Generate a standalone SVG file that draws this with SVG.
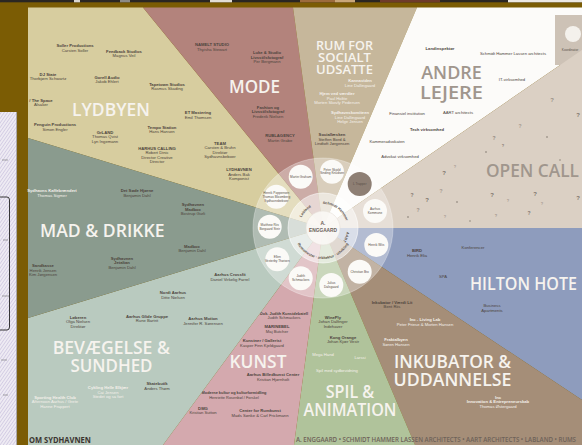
<svg xmlns="http://www.w3.org/2000/svg" width="582" height="445" viewBox="0 0 582 445">
<defs>
<style>
.big{font-family:"Open Sans","Noto Sans","DejaVu Sans",sans-serif;font-weight:600;font-size:17.5px;fill:#f6f3ee}
.f14{font-size:13px}
.f18{font-size:18.5px}
.mid{text-anchor:middle}
.grey{fill:#a0968d}
.sm{font-family:"Liberation Sans","Noto Sans",sans-serif;font-size:4.2px;fill:#4d443c;text-anchor:middle}
.s39{font-size:3.9px}
.lt{fill:#f4f0ea}
.b{font-weight:bold}
.q{font-family:"Liberation Sans",sans-serif;font-weight:bold;fill:#7e746b;text-anchor:middle}
.ring{font-family:"Liberation Sans",sans-serif;font-size:3.7px;fill:#5e544b;font-weight:bold}
.cir{fill:#fbfaf7}
.ct{font-family:"Liberation Sans",sans-serif;font-size:3.2px;fill:#5a5048;text-anchor:middle}
.sec{stroke:none}
</style>
<pattern id="hatch" width="2.6" height="2.6" patternUnits="userSpaceOnUse" patternTransform="rotate(35)">
<line x1="0" y1="0" x2="0" y2="2.6" stroke="#b2a6d0" stroke-width="1"/>
</pattern>
<path id="ringCW" d="M 299,228 A 24,24 0 1 1 347,228 A 24,24 0 1 1 299,228"/>
<path id="ringBot" d="M 294,230 A 29,29 0 0 0 352,230"/>
</defs>

<!-- frame -->
<rect x="0" y="0" width="582" height="445" fill="#7b5c04"/>
<g id="top-strip">
<rect x="0" y="0" width="582" height="2.3" fill="#2a2622"/>
<rect x="74" y="0" width="6" height="2.3" fill="#d9d6d0"/>
<rect x="120" y="0" width="10" height="2.3" fill="#8c8a86"/>
<rect x="210" y="0" width="22" height="2.3" fill="#e2ded6"/>
<rect x="300" y="0" width="35" height="2.3" fill="#9c6b3c"/>
<rect x="335" y="0" width="20" height="2.3" fill="#c9a77a"/>
<rect x="380" y="0" width="60" height="2.3" fill="#6e3b2a"/>
<rect x="508" y="0" width="74" height="2.3" fill="#ece8e2"/>
</g>
<g id="sketch-paper">
<rect x="0" y="112" width="17" height="333" fill="#eeebf3"/>
<rect x="0" y="112" width="17" height="333" fill="url(#hatch)" opacity="0.8"/>
<line x1="16.6" y1="112" x2="16.6" y2="445" stroke="#8a8580" stroke-width="0.7"/>
<path d="M0,197 H7 Q9.5,197 9.5,200 V327 Q9.5,330 7,330 H0" fill="none" stroke="#222" stroke-width="0.9"/>
<path d="M2,160 h6 M3,240 h5 M2,296 h7 M1,360 h6 M3,395 h5" stroke="#555" stroke-width="0.5"/>
</g>

<!-- sectors -->
<g id="lydbyen">
<polygon class="sec" points="323,228 28,138 28,7.5 143,7.5" fill="#d7cd9f"/>
<text class="big" x="72" y="116" textLength="78" lengthAdjust="spacingAndGlyphs">LYDBYEN</text>
<text class="sm" x="75" y="47"><tspan class="b">Soller Productions</tspan><tspan x="75" dy="4.6">Carsten Soller</tspan></text>
<text class="sm" x="124" y="52.5"><tspan class="b">Feedback Studios</tspan><tspan x="124" dy="4.6">Magnus Veil</tspan></text>
<text class="sm" x="48" y="75.5"><tspan class="b">DJ State</tspan><tspan x="48" dy="4.6">Thorbjørn Schwartz</tspan></text>
<text class="sm" x="107" y="78.5"><tspan class="b">Gorell Audio</tspan><tspan x="107" dy="4.6">Jakob Ehlert</tspan></text>
<text class="sm" x="167" y="85.5"><tspan class="b">Tapetown Studios</tspan><tspan x="167" dy="4.6">Rasmus Skading</tspan></text>
<text class="sm" x="41" y="101.5"><tspan class="b">/ The Space</tspan><tspan x="41" dy="4.6">Alsaker</tspan></text>
<text class="sm" x="198" y="114"><tspan class="b">ET Mastering</tspan><tspan x="198" dy="4.6">Emil Thomsen</tspan></text>
<text class="sm" x="55" y="126"><tspan class="b">Penguin Productions</tspan><tspan x="55" dy="4.6">Simon Engler</tspan></text>
<text class="sm" x="105" y="133.5"><tspan class="b">GrLAND</tspan><tspan x="105" dy="4.6">Thomas Qvist</tspan><tspan x="105" dy="4.6">Lyn Ingemann</tspan></text>
<text class="sm" x="162" y="128.5"><tspan class="b">Tempo Station</tspan><tspan x="162" dy="4.6">Hans Hansen</tspan></text>
<text class="sm" x="157" y="149.5"><tspan class="b">HARHUS CALLING</tspan><tspan x="157" dy="4.6">Robert Dinic</tspan><tspan x="157" dy="4.6">Director Creative</tspan><tspan x="157" dy="4.6">Director</tspan></text>
<text class="sm" x="220" y="144.5"><tspan class="b">TEAM</tspan><tspan x="220" dy="4.6">Carsten &amp; Bruhn</tspan><tspan x="220" dy="4.6">Direktør</tspan><tspan x="220" dy="4.6">Sydhavnsbeboer</tspan></text>
<text class="sm" x="239" y="171"><tspan class="b">LYDHAVNEN</tspan><tspan x="239" dy="4.6">Anders Bak</tspan><tspan x="239" dy="4.6">Komponist</tspan></text>
</g>

<g id="mode">
<polygon class="sec" points="323,228 143,7.5 293,7.5" fill="#b3837c"/>
<text class="big" x="229" y="92.7" textLength="51" lengthAdjust="spacingAndGlyphs">MODE</text>
<text class="sm" x="212" y="46"><tspan class="b">NAMELT STUDIO</tspan><tspan x="212" dy="4.6">Thyisha Stewart</tspan></text>
<text class="sm" x="267" y="54"><tspan class="b">Luke &amp; Studio</tspan><tspan x="267" dy="4.6" class="b">Livsstilsfotograf</tspan><tspan x="267" dy="4.6">Per Bergmann</tspan></text>
<text class="sm" x="268" y="108.5"><tspan class="b">Fashion og</tspan><tspan x="268" dy="4.6" class="b">Livsstilsfotograf</tspan><tspan x="268" dy="4.6">Frederik Nielsen</tspan></text>
<text class="sm" x="280" y="137"><tspan class="b">RUBLAGENCY</tspan><tspan x="280" dy="4.6">Martin Grabe</tspan></text>
</g>

<g id="rum-for-socialt-udsatte">
<polygon class="sec" points="323,228 293,7.5 417,7.5" fill="#c6b79b"/>
<text class="big f14 mid" x="344.5" y="50" textLength="57" lengthAdjust="spacingAndGlyphs">RUM FOR</text>
<text class="big f14 mid" x="344.5" y="62" textLength="53" lengthAdjust="spacingAndGlyphs">SOCIALT</text>
<text class="big f14 mid" x="344.5" y="74" textLength="57" lengthAdjust="spacingAndGlyphs">UDSATTE</text>
<text class="sm lt" x="360" y="82"><tspan class="b">Kannaviden</tspan><tspan x="360" dy="4.6">Line Dallingaard</tspan></text>
<text class="sm lt" x="337" y="95"><tspan class="b">Hjem ved værdier</tspan><tspan x="337" dy="4.6">Paul Holtte</tspan><tspan x="337" dy="4.6">Morten Skovly Pedersen</tspan></text>
<text class="sm lt" x="350" y="114"><tspan class="b">Sydhavnskomiteen</tspan><tspan x="350" dy="4.6">Line Dallingaard</tspan><tspan x="350" dy="4.6">Helge Jensen</tspan></text>
<text class="sm" x="332" y="136"><tspan class="b">Sociallæsken</tspan><tspan x="332" dy="4.6">Steffen Bord &amp;</tspan><tspan x="332" dy="4.6">Lindtoft Jørgensen</tspan></text>
</g>

<g id="andre-lejere">
<polygon class="sec" points="323,228 417,7.5 582,7.5 582,50" fill="#fcfbf9"/>
<text class="big f18 mid grey" x="451.5" y="78.8" textLength="60.5" lengthAdjust="spacingAndGlyphs">ANDRE</text>
<text class="big f18 mid grey" x="451.5" y="99" textLength="63" lengthAdjust="spacingAndGlyphs">LEJERE</text>
<text class="sm b" x="440" y="50">Landinspektør</text>
<text class="sm" x="513" y="55">Schmidt Hammer Lassen architects</text>
<text class="sm" x="512" y="81">IT-virksomhed</text>
<text class="sm" x="407" y="115">Finansiel institution</text>
<text class="sm" x="458" y="114">AART architects</text>
<text class="sm b" x="427" y="131">Tech virksomhed</text>
<text class="sm" x="387" y="143">Kammeradvokaten</text>
<text class="sm" x="400" y="158">Advokat virksomhed</text>
<g id="inset-box">
<rect x="555" y="15" width="27" height="50" fill="#cdc2b6"/>
<circle cx="573" cy="34" r="8" fill="#f4f1ec"/>
<text class="ct" x="570" y="51">Koordinator</text>
</g>
</g>

<g id="open-call">
<polygon class="sec" points="323,228 582,50 582,228" fill="#dbd0c4"/>
<text class="big f18 grey" x="486" y="177" textLength="93" lengthAdjust="spacingAndGlyphs">OPEN CALL</text>
<text class="q" x="552" y="102" font-size="6" opacity="0.7">?</text>
<text class="q" x="578" y="117" font-size="6">?</text>
<text class="q" x="520" y="128" font-size="5" opacity="0.6">?</text>
<text class="q" x="494" y="140" font-size="5" opacity="0.8">?</text>
<text class="q" x="503" y="147" font-size="4">?</text>
<text class="q" x="444" y="175" font-size="6">?</text>
<text class="q" x="455" y="168" font-size="4" opacity="0.6">?</text>
<text class="q" x="412" y="197" font-size="5">?</text>
<text class="q" x="427" y="202" font-size="6">?</text>
<text class="q" x="441" y="193" font-size="5" opacity="0.6">?</text>
<text class="q" x="492" y="197" font-size="6">?</text>
<text class="q" x="508" y="202" font-size="4" opacity="0.6">?</text>
<text class="q" x="535" y="196" font-size="6">?</text>
<text class="q" x="542" y="205" font-size="4" opacity="0.6">?</text>
<text class="q" x="578" y="200" font-size="6">?</text>
<text class="q" x="418" y="212" font-size="5" opacity="0.7">?</text>
<text class="q" x="445" y="218" font-size="4" opacity="0.6">?</text>
<text class="q" x="496" y="217" font-size="4" opacity="0.7">?</text>
<text class="q" x="529" y="215" font-size="5">?</text>
<g fill="#7e746b">
<circle cx="547" cy="137" r="0.8"/><circle cx="486" cy="152" r="0.8"/><circle cx="457" cy="202" r="0.8"/><circle cx="408" cy="217" r="0.8"/><circle cx="470" cy="221" r="0.7"/><circle cx="560" cy="160" r="0.7"/>
</g>
</g>

<g id="hilton-hotel">
<polygon class="sec" points="323,228 582,228 582,400" fill="#8e9cbd"/>
<text class="big" x="470" y="289.5" textLength="107" lengthAdjust="spacingAndGlyphs">HILTON HOTE</text>
<text class="sm" x="417" y="252"><tspan class="b">BIRD</tspan><tspan x="417" dy="4.6">Henrik Elia</tspan></text>
<text class="sm" x="473" y="248.5">Konferencer</text>
<text class="sm" x="443" y="277.5">SPA</text>
<text class="sm" x="492" y="307"><tspan>Business</tspan><tspan x="492" dy="4.6">Apartments</tspan></text>
</g>

<g id="inkubator-uddannelse">
<polygon class="sec" points="323,228 582,400 582,445 415,445" fill="#a58e78"/>
<text class="big mid" x="452.5" y="368.3" textLength="117" lengthAdjust="spacingAndGlyphs">INKUBATOR &amp;</text>
<text class="big mid" x="452.5" y="386" textLength="118" lengthAdjust="spacingAndGlyphs">UDDANNELSE</text>
<text class="sm" x="392" y="303.5"><tspan class="b">Inkubator / Værdi Lit</tspan><tspan x="392" dy="4.6">Bent Riis</tspan></text>
<text class="sm lt" x="425" y="321"><tspan class="b">Inc - Living Lab</tspan><tspan x="425" dy="4.6">Peter Friese &amp; Morten Hansen</tspan></text>
<text class="sm lt" x="396" y="341"><tspan class="b">Fraktalbyen</tspan><tspan x="396" dy="4.6">Søren Hansen</tspan></text>
<text class="sm lt" x="498" y="398.5"><tspan class="b">Inc</tspan><tspan x="498" dy="4.6" class="b">Innovation &amp; Entrepreneurskab</tspan><tspan x="498" dy="4.6">Thomas Østergaard</tspan></text>
</g>

<g id="spil-animation">
<polygon class="sec" points="323,228 415,445 294,445" fill="#b0c39b"/>
<text class="big mid" x="350" y="397.7" textLength="48.5" lengthAdjust="spacingAndGlyphs">SPIL &amp;</text>
<text class="big mid" x="350" y="416" textLength="93" lengthAdjust="spacingAndGlyphs">ANIMATION</text>
<text class="sm" x="333" y="318.5"><tspan class="b">WinePly</tspan><tspan x="333" dy="4.6">Johan Dalfinger</tspan><tspan x="333" dy="4.6">Indehaver</tspan></text>
<text class="sm" x="343" y="338.5"><tspan class="b">Kong Orange</tspan><tspan x="343" dy="4.6">Johan Kjær Vestr</tspan></text>
<text class="sm lt" x="323" y="356">Mega Hand</text>
<text class="sm lt" x="360" y="358.5">Larssi</text>
<text class="sm lt" x="337" y="371.5">Spil med sydbevidning</text>
</g>

<g id="kunst">
<polygon class="sec" points="323,228 294,445 163,445" fill="#d4a9ae"/>
<text class="big" x="229.5" y="368" textLength="57" lengthAdjust="spacingAndGlyphs">KUNST</text>
<text class="sm s39" x="284" y="314.5"><tspan class="b">Dok. Judith Kunstdebatell</tspan><tspan x="284" dy="4.6">Judith Schmackers</tspan></text>
<text class="sm" x="277" y="328"><tspan class="b">MARINEBEL</tspan><tspan x="277" dy="4.6">Maj Butcher</tspan></text>
<text class="sm" x="262" y="342"><tspan class="b">Kunstner / Gallerist</tspan><tspan x="262" dy="4.6">Kasper Finn Kjeldgaard</tspan></text>
<text class="sm" x="273" y="376"><tspan class="b">Aarhus Billedkunst Center</tspan><tspan x="273" dy="4.6">Kristian Hjørnholt</tspan></text>
<text class="sm s39" x="234" y="394"><tspan class="b">Moderne kultur og kulturformidling</tspan><tspan x="234" dy="4.6">Henriette Rosenbøl / Forskel</tspan></text>
<text class="sm" x="203" y="409.5"><tspan class="b">DMG</tspan><tspan x="203" dy="4.6">Kristian Sutton</tspan></text>
<text class="sm" x="260" y="412"><tspan class="b">Center for Rumkunst</tspan><tspan x="260" dy="4.6">Mads Sønke &amp; Carl Frickmann</tspan></text>
</g>

<g id="bevaegelse-sundhed">
<polygon class="sec" points="323,228 163,445 28,445 28,318" fill="#b9cabf"/>
<text class="big mid" x="111.3" y="354.2" textLength="117.3" lengthAdjust="spacingAndGlyphs">BEVÆGELSE &amp;</text>
<text class="big mid" x="111.5" y="372.2" textLength="82" lengthAdjust="spacingAndGlyphs">SUNDHED</text>
<text class="sm" x="230" y="276"><tspan class="b">Aarhus Crossfit</tspan><tspan x="230" dy="4.6">Daniel Virkelig Farrel</tspan></text>
<text class="sm" x="173" y="294"><tspan class="b">Nordi Aarhus</tspan><tspan x="173" dy="4.6">Ditte Nielsen</tspan></text>
<text class="sm" x="78" y="318.5"><tspan class="b">Løberen</tspan><tspan x="78" dy="4.6">Olga Nielsen</tspan><tspan x="78" dy="4.6">Direktør</tspan></text>
<text class="sm" x="147" y="317.5"><tspan class="b">Aarhus Glide Gruppe</tspan><tspan x="147" dy="4.6">Rune Bartrit</tspan></text>
<text class="sm" x="203" y="320"><tspan class="b">Aarhus Motion</tspan><tspan x="203" dy="4.6">Jennifer R. Sørensen</tspan></text>
<text class="sm lt" x="108" y="389"><tspan class="b">Cykling Helle Elkjær</tspan><tspan x="108" dy="4.6">Cai Jensen</tspan><tspan x="108" dy="4.6">Stedet og så fort</tspan></text>
<text class="sm" x="157" y="385"><tspan class="b">Skatebutik</tspan><tspan x="157" dy="4.6">Anders Thøm</tspan></text>
<text class="sm lt" x="55" y="398.5"><tspan class="b">Sporting Health Club</tspan><tspan x="55" dy="4.6">Afternoon Aarhus / Grete</tspan><tspan x="55" dy="4.6">Hanne Frappert</tspan></text>
</g>

<g id="mad-drikke">
<polygon class="sec" points="323,228 28,318 28,138" fill="#8a9b8e"/>
<text class="big" x="40" y="237.3" textLength="124.5" lengthAdjust="spacingAndGlyphs">MAD &amp; DRIKKE</text>
<text class="sm lt" x="52" y="192"><tspan class="b">Sydhavns Kaffebrænderi</tspan><tspan x="52" dy="4.6">Thomas Sigmer</tspan></text>
<text class="sm" x="137" y="192"><tspan class="b">Det Søde Hjørne</tspan><tspan x="137" dy="4.6">Benjamin Dahl</tspan></text>
<text class="sm" x="193" y="206"><tspan class="b">Sydhavnen</tspan><tspan x="193" dy="4.6" class="b">Madbox</tspan><tspan x="193" dy="4.6">Bostrup Gurli</tspan></text>
<text class="sm" x="192" y="247.5"><tspan class="b">Madbox</tspan><tspan x="192" dy="4.6">Benjamin Dahl</tspan></text>
<text class="sm" x="122" y="259.5"><tspan class="b">Sydhavnen</tspan><tspan x="122" dy="4.6" class="b">Jetaltan</tspan><tspan x="122" dy="4.6">Benjamin Dahl</tspan></text>
<text class="sm" x="43" y="267"><tspan class="b">Sandkasse</tspan><tspan x="43" dy="4.6">Henrik Jensen</tspan><tspan x="43" dy="4.6">Kim Jørgensen</tspan></text>
</g>

<g id="connectors"></g>

<!-- center -->
<g id="center-a-enggaard">
<circle cx="323" cy="228" r="70" fill="#ffffff" opacity="0.33"/>
<circle cx="323" cy="228" r="70" fill="none" stroke="#ffffff" stroke-opacity="0.35" stroke-width="0.8"/>
<circle cx="323" cy="228" r="35" fill="#ffffff" opacity="0.5"/>
<circle cx="323" cy="228" r="35" fill="none" stroke="#ffffff" stroke-opacity="0.7" stroke-width="0.8"/>
<circle cx="323" cy="228" r="17" fill="#fbf9f6" opacity="0.9" stroke="#e6dfd6" stroke-width="0.6"/>
<text class="ring"><textPath href="#ringCW" startOffset="12%" text-anchor="middle">Labland</textPath></text>
<text class="ring"><textPath href="#ringCW" startOffset="35%" text-anchor="middle">Schmidt Hammer</textPath></text>
<text class="ring"><textPath href="#ringCW" startOffset="56%" text-anchor="middle">AART</textPath></text>
<text class="ring"><textPath href="#ringBot" startOffset="50%" text-anchor="middle">Rumsmester · arkitektur · udvikling</textPath></text>
<text x="323" y="225" font-family="Liberation Sans, sans-serif" font-weight="bold" font-size="5" fill="#6b6058" text-anchor="middle">A.</text>
<text x="323" y="231.5" font-family="Liberation Sans, sans-serif" font-weight="bold" font-size="5" fill="#6b6058" text-anchor="middle" textLength="28" lengthAdjust="spacingAndGlyphs">ENGGAARD</text>
</g>
<g id="partners">
<circle class="cir" cx="300.7" cy="176.7" r="12"/><text class="ct" x="300.7" y="178">Martin Graham</text>
<circle class="cir" cx="332" cy="171.7" r="12"/><text class="ct" x="332" y="170.5">Peter Skjold<tspan x="332" dy="3.8">Sinding Knudsen</tspan></text>
<circle cx="359.7" cy="184" r="12" fill="#8e7f74"/><text class="ct" x="359.7" y="185.3" fill="#f3eee8">L Trapper</text>
<circle class="cir" cx="375" cy="211" r="12"/><text class="ct" x="375" y="210">Aarhus<tspan x="375" dy="3.8">Kommune</tspan></text>
<circle class="cir" cx="376.3" cy="245" r="12"/><text class="ct" x="376.3" y="246.2">Henrik Wiis</text>
<circle class="cir" cx="359.7" cy="271.7" r="12"/><text class="ct" x="359.7" y="273">Christian Bro</text>
<circle class="cir" cx="331.3" cy="285" r="12"/><text class="ct" x="331.3" y="284">Julius<tspan x="331.3" dy="3.8">Dalsgaard</tspan></text>
<circle class="cir" cx="300.7" cy="278.3" r="12"/><text class="ct" x="300.7" y="277.3">Judith<tspan x="300.7" dy="3.8">Schmackers</tspan></text>
<circle class="cir" cx="277.3" cy="259.3" r="12"/><text class="ct" x="277.3" y="258.3">Ellen<tspan x="277.3" dy="3.8">Vesterby Thøisen</tspan></text>
<circle class="cir" cx="269.7" cy="226.7" r="12"/><text class="ct" x="269.7" y="225.7">Matthew Riis<tspan x="269.7" dy="3.8">Borgaard Steir</tspan></text>
<circle class="cir" cx="276.3" cy="196.7" r="12"/><text class="ct" x="276.3" y="194">Henrik Poppensen<tspan x="276.3" dy="3.8">Thomas Bloomberg</tspan><tspan x="276.3" dy="3.8">Sydhavnsbeboer</tspan></text>
</g>

<g id="footer">
<text x="29" y="442.5" font-family="Open Sans, Noto Sans, sans-serif" font-weight="700" font-size="8.5" fill="#3b3530" textLength="62" lengthAdjust="spacingAndGlyphs">OM SYDHAVNEN</text>
<text x="296" y="442" font-family="Open Sans, Noto Sans, sans-serif" font-weight="600" font-size="6.4" fill="#6e6258" textLength="280" lengthAdjust="spacingAndGlyphs">A. ENGGAARD • SCHMIDT HAMMER LASSEN ARCHITECTS • AART ARCHITECTS • LABLAND • RUMS</text>
</g>
</svg>
